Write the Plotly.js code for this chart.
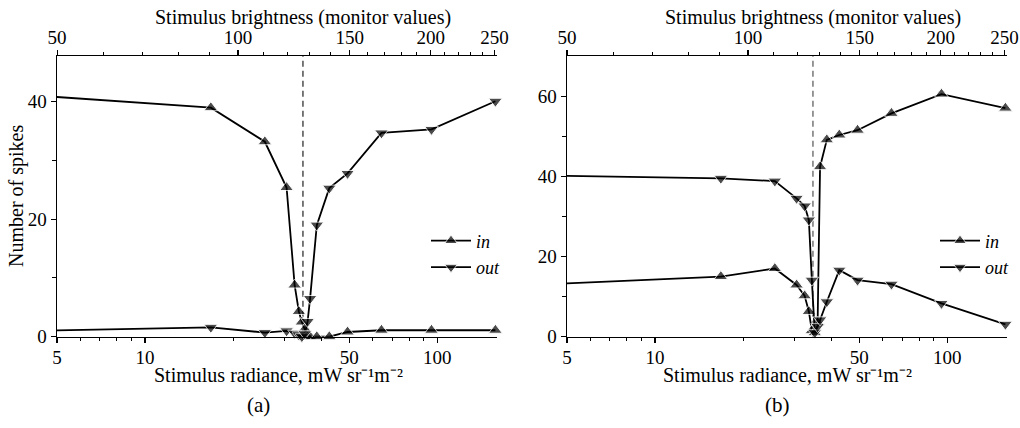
<!DOCTYPE html>
<html>
<head>
<meta charset="utf-8">
<script src="https://cdn.plot.ly/plotly-3.0.1.min.js"></script>
<style>
html,body{margin:0;padding:0;background:#fff;}
#chart{width:1020px;height:428px;}
</style>
</head>
<body>
<div id="chart"></div>
<script>
// ---- data ----
// stimulus radiance, mW sr^-1 m^-2 (first stimulus lies left of the axis range)
const stimulusRadiance = [2.0, 16.8, 25.7, 30.5, 32.5, 33.6, 34.4, 35.2, 36.0, 36.7, 38.7, 42.7, 49.3, 64.4, 95.5, 158];
// panel (a)
const aIn  = [42.2, 39.0, 33.2, 25.4, 8.8, 4.3, 2.5, 1.3, 0.0, 0.0, 0.0, 0.0, 0.8, 1.1, 1.1, 1.1];
const aOut = [0.7, 1.6, 0.7, 1.0, 0.6, 0.3, 0.0, 0.5, 2.6, 6.5, 19.0, 25.3, 27.8, 34.7, 35.3, 40.1];
// panel (b)
const bIn  = [12.0, 15.0, 17.0, 12.9, 10.2, 6.3, 1.5, 1.0, 3.5, 42.4, 49.1, 50.3, 51.5, 55.7, 60.5, 57.0];
const bOut = [40.6, 39.5, 38.8, 34.5, 32.6, 29.1, 14.1, 1.0, 2.5, 4.2, 8.7, 16.6, 14.1, 13.1, 8.3, 3.1];
// background radiance (dashed line)
const backgroundRadiance = 34.7;
// axis ticks
const radianceTicks = [5, 10, 50, 100];
const radianceTickText = ['5', '10', '50', '100'];
const radianceMinorTicks = [6, 7, 8, 9, 20, 30, 40, 60, 70, 80, 90];
const brightnessTicks = [50, 100, 150, 200, 250];
const brightnessMinorTicks = [60, 70, 80, 90, 110, 120, 130, 140, 160, 170, 180, 190, 210, 220, 230, 240];
const aYTicks = [0, 20, 40], aYMinor = [10, 30];
const bYTicks = [0, 20, 40, 60], bYMinor = [10, 30, 50];
// monitor calibration: brightness value -> radiance
function brightnessToRadiance(b) { return Math.pow(0.03307 * (b + 10), 2.35); }

// ---- layout constants ----
const W = 1020, H = 428;
const xMin = 5, xMax = 160;
const xRange = [Math.log10(xMin), Math.log10(xMax)];
const FONT = 'Liberation Serif';
const px = v => v / W, py = v => 1 - v / H;
const yDom = [py(336.7), py(56)];
const leftDom = [px(57), px(497)];
const rightDom = [px(567), px(1007)];

function markerSizes(xs) { return xs.map(v => (v >= xMin && v <= xMax) ? 12 : 0); }

function series(y, name, symbol, xa, ya, legend, showleg) {
  return {
    x: stimulusRadiance, y: y, name: name, type: 'scatter', mode: 'lines+markers',
    xaxis: xa, yaxis: ya, legend: legend, showlegend: showleg,
    line: {color: '#000', width: 1.8},
    marker: {symbol: symbol, color: '#000', size: markerSizes(stimulusRadiance)},
    cliponaxis: false, hoverinfo: 'skip'
  };
}

const data = [
  series(aIn, '<i>in</i>', 'triangle-up', 'x', 'y', 'legend', true),
  series(aOut, '<i>out</i>', 'triangle-down', 'x', 'y', 'legend', true),
  series(bIn, '<i>in</i>', 'triangle-up', 'x3', 'y2', 'legend2', true),
  series(bOut, '<i>out</i>', 'triangle-down', 'x3', 'y2', 'legend2', true),
  {x: [], y: [], xaxis: 'x2', yaxis: 'y', showlegend: false, type: 'scatter', hoverinfo: 'skip'},
  {x: [], y: [], xaxis: 'x4', yaxis: 'y2', showlegend: false, type: 'scatter', hoverinfo: 'skip'}
];

const tickFont = {family: FONT, size: 19, color: '#000'};

function bottomAxis(dom, anchor) {
  return {
    domain: dom, anchor: anchor, type: 'log', range: xRange,
    tickmode: 'array', tickvals: radianceTicks, ticktext: radianceTickText,
    ticks: 'outside', ticklen: 5, tickwidth: 1.2, tickcolor: '#000', ticklabelstandoff: -2,
    minor: {tickmode: 'array', tickvals: radianceMinorTicks, ticks: 'outside', ticklen: 3, tickwidth: 1, tickcolor: '#000', showgrid: false},
    showline: true, linecolor: '#000', linewidth: 1.4, showgrid: false, zeroline: false,
    tickfont: tickFont, automargin: false, fixedrange: true
  };
}
function topAxis(over, anchor) {
  return {
    overlaying: over, anchor: anchor, side: 'top', type: 'log', range: xRange,
    tickmode: 'array', tickvals: brightnessTicks.map(brightnessToRadiance), ticktext: brightnessTicks.map(String),
    ticks: 'outside', ticklen: 5, tickwidth: 1.2, tickcolor: '#000', ticklabelstandoff: -2,
    minor: {tickmode: 'array', tickvals: brightnessMinorTicks.map(brightnessToRadiance), ticks: 'outside', ticklen: 3, tickwidth: 1, tickcolor: '#000', showgrid: false},
    showline: true, linecolor: '#000', linewidth: 1.4, showgrid: false, zeroline: false,
    tickfont: tickFont, automargin: false, fixedrange: true
  };
}
function leftAxis(anchor, range, tv, minor) {
  return {
    domain: yDom, anchor: anchor, range: range,
    tickmode: 'array', tickvals: tv, ticktext: tv.map(String),
    ticks: 'outside', ticklen: 5, tickwidth: 1.2, tickcolor: '#000',
    minor: {tickmode: 'array', tickvals: minor, ticks: 'outside', ticklen: 4, tickwidth: 1, tickcolor: '#000', showgrid: false},
    showline: true, linecolor: '#000', linewidth: 1.4, showgrid: false, zeroline: false,
    tickfont: tickFont, automargin: false, fixedrange: true
  };
}

function ann(x, y, text, size, extra) {
  return Object.assign({xref: 'paper', yref: 'paper', x: px(x), y: py(y), text: text, showarrow: false,
    xanchor: 'center', yanchor: 'middle', font: {family: FONT, size: size, color: '#000'}}, extra || {});
}
const radTitle = 'Stimulus radiance, mW sr⁻¹m⁻²';
const briTitle = 'Stimulus brightness (monitor values)';

const legendCommon = {
  font: {family: FONT, size: 18, color: '#000'}, bgcolor: 'rgba(0,0,0,0)', borderwidth: 0,
  itemwidth: 40, tracegroupgap: 0, xanchor: 'left', yanchor: 'top', traceorder: 'normal'
};

const layout = {
  width: W, height: H, margin: {l: 0, r: 0, t: 0, b: 0},
  paper_bgcolor: '#fff', plot_bgcolor: 'rgba(0,0,0,0)',
  font: {family: FONT, size: 19, color: '#000'},
  xaxis: bottomAxis(leftDom, 'y'),
  xaxis2: topAxis('x', 'y'),
  xaxis3: bottomAxis(rightDom, 'y2'),
  xaxis4: topAxis('x3', 'y2'),
  yaxis: leftAxis('x', [0, 47.8], aYTicks, aYMinor),
  yaxis2: leftAxis('x3', [0, 70], bYTicks, bYMinor),
  legend: Object.assign({x: px(426), y: py(222.5)}, legendCommon),
  legend2: Object.assign({x: px(935), y: py(222.5)}, legendCommon),
  shapes: [
    {type: 'line', xref: 'x', yref: 'y domain', x0: backgroundRadiance, x1: backgroundRadiance, y0: 0, y1: 1,
     line: {color: '#222', width: 1.2, dash: '6px,4px'}, layer: 'below'},
    {type: 'line', xref: 'x3', yref: 'y2 domain', x0: backgroundRadiance, x1: backgroundRadiance, y0: 0, y1: 1,
     line: {color: '#555', width: 1.2, dash: '6px,4px'}, layer: 'below'}
  ],
  annotations: [
    ann(278, 375, radTitle, 20),
    ann(303, 18, briTitle, 20),
    ann(787, 375, radTitle, 20),
    ann(813, 18, briTitle, 20),
    ann(17, 196, 'Number of spikes', 20, {textangle: -90}),
    ann(258, 405, '(a)', 21),
    ann(777, 405, '(b)', 21)
  ],
  showlegend: true
};

Plotly.newPlot('chart', data, layout, {staticPlot: true, displayModeBar: false});
</script>
</body>
</html>
